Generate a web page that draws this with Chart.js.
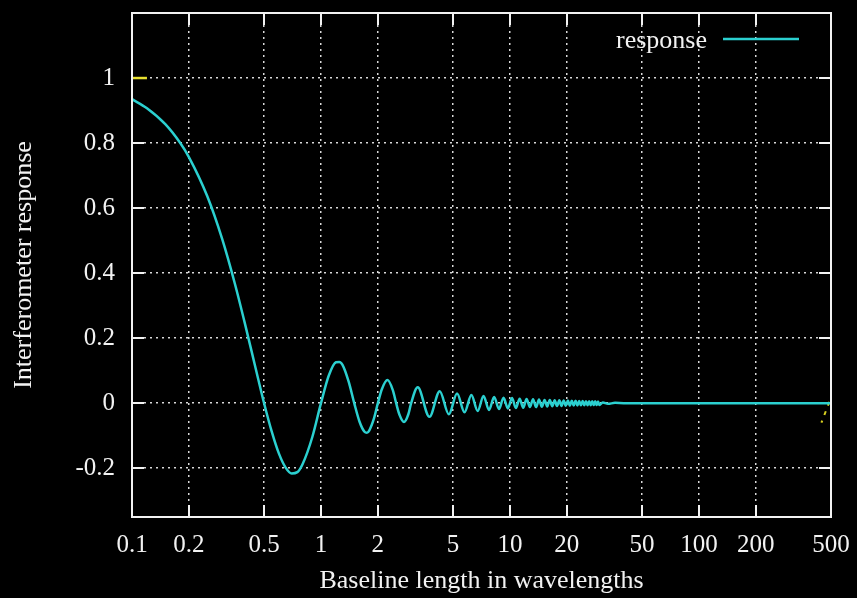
<!DOCTYPE html>
<html>
<head>
<meta charset="utf-8">
<script src="https://cdn.jsdelivr.net/npm/chart.js@4/dist/chart.umd.min.js"></script>
<style>
  html, body { margin:0; padding:0; background:#000; }
  #wrap { width:857px; height:598px; }
</style>
</head>
<body>
<div id="wrap"><canvas id="respChart"></canvas></div>
<script>
// ======================================
// Data
// ======================================

const baseline = [
    0.1, 0.12, 0.15, 0.18, 0.2, 0.25, 0.3, 0.35, 0.4, 0.45,
    0.5, 0.55, 0.6, 0.65, 0.7, 0.75, 0.8, 0.9,
    1.0, 1.1, 1.2, 1.25, 1.3, 1.4,
    1.5, 1.6, 1.7, 1.75, 1.8, 1.9,
    2.0, 2.1, 2.25, 2.4, 2.5, 2.6, 2.75, 2.9, 3.0,
    3.25, 3.75, 4.25, 4.75, 5.25, 5.75, 6.25, 6.75, 7.25, 7.75,
    8.25, 8.75, 9.25, 9.75, 10.25, 10.75, 11.25, 11.75, 12.25, 12.75,
    13.25, 13.75, 14.25, 14.75, 15.25, 15.75, 16.25, 16.75, 17.25, 17.75,
    18.25, 18.75, 19.25, 19.75, 20.25, 20.75, 21.25, 21.75,
    22.25, 22.75, 23.25, 23.75, 24.25, 24.75, 25.25, 25.75,
    26.25, 26.75, 27.25, 27.75, 28.25, 28.75, 29.25, 29.75,
    31, 33, 36, 40, 50, 100, 200, 500
];

const response = [
    0.935, 0.907, 0.858, 0.800, 0.757, 0.637, 0.505, 0.368, 0.234, 0.110,
    0, -0.089, -0.156, -0.198, -0.216, -0.212, -0.187, -0.104,
    0, 0.085, 0.126, 0.127, 0.118, 0.067,
    0, -0.057, -0.088, -0.091, -0.084, -0.050,
    0, 0.043, 0.071, 0.040, 0, -0.035, -0.058, -0.034, 0,
    0.049, -0.042, 0.037, -0.034, 0.030, -0.028, 0.025, -0.024, 0.022, -0.021,
    0.019, -0.018, 0.017, -0.016, 0.016, -0.015, 0.014, -0.014, 0.013, -0.012,
    0.012, -0.012, 0.011, -0.011, 0.010, -0.010, 0.010, -0.0095, 0.009, -0.009,
    0.0087, -0.0085, 0.0083, -0.008, 0.0079, -0.0077, 0.0075, -0.0073,
    0.0072, -0.007, 0.0068, -0.0067, 0.0066, -0.0064, 0.0063, -0.0062,
    0.0061, -0.006, 0.0058, -0.0057, 0.0056, -0.0055, 0.0054, -0.0053,
    0.002, -0.002, 0.001, 0, 0, 0, 0, 0
];

const markLeftX  = [0.1, 0.12];
const markLeftY  = [1, 1];
const markRightX = [490, 445];
const markRightY = [0.004, -0.06];

const xTickValues = [0.1, 0.2, 0.5, 1, 2, 5, 10, 20, 50, 100, 200, 500];
const yTickValues = [-0.2, 0, 0.2, 0.4, 0.6, 0.8, 1];

// ======================================
// Helpers
// ======================================

function toPoints(xs, ys){

    return xs.map((x, i) => ({ x:x, y:ys[i] }));

}

const serif = "'Liberation Serif', 'DejaVu Serif', serif";
const lineColor = "#2bd0d0";
const inkColor = "#f2f2f2";

// inward ticks on all four sides, frame and legend inside plot
const framePlugin = {

    id:"frame",

    beforeDatasetsDraw(chart){

        const ctx = chart.ctx;
        const a = chart.chartArea;
        const xs = chart.scales.x;
        const ys = chart.scales.y;
        const len = 12;

        ctx.save();
        ctx.strokeStyle = inkColor;
        ctx.lineWidth = 2;
        ctx.beginPath();

        xTickValues.forEach(v => {
            const px = Math.round(xs.getPixelForValue(v));
            ctx.moveTo(px, a.bottom); ctx.lineTo(px, a.bottom - len);
            ctx.moveTo(px, a.top);    ctx.lineTo(px, a.top + len);
        });

        yTickValues.forEach(v => {
            const py = Math.round(ys.getPixelForValue(v));
            ctx.moveTo(a.left, py);  ctx.lineTo(a.left + len, py);
            ctx.moveTo(a.right, py); ctx.lineTo(a.right - len, py);
        });

        ctx.stroke();
        ctx.restore();

    },

    afterDraw(chart){

        const ctx = chart.ctx;
        const a = chart.chartArea;

        ctx.save();
        ctx.strokeStyle = inkColor;
        ctx.lineWidth = 2;
        ctx.strokeRect(a.left, a.top, a.right - a.left, a.bottom - a.top);

        // legend
        ctx.fillStyle = inkColor;
        ctx.font = "26px " + serif;
        ctx.textAlign = "right";
        ctx.textBaseline = "middle";
        ctx.fillText("response", a.right - 124, a.top + 28);

        ctx.strokeStyle = lineColor;
        ctx.lineWidth = 2.5;
        ctx.beginPath();
        ctx.moveTo(a.right - 108, a.top + 26);
        ctx.lineTo(a.right - 32, a.top + 26);
        ctx.stroke();

        ctx.restore();

    }

};

// ======================================
// Chart
// ======================================

const respChart = new Chart(document.getElementById("respChart"), {

    type:"line",

    data:{
        datasets:[
            {
                label:"response",
                data:toPoints(baseline, response),
                borderColor:lineColor,
                borderWidth:2.5,
                pointRadius:0,
                cubicInterpolationMode:"monotone",
                fill:false
            },
            {
                label:"mark1",
                data:toPoints(markLeftX, markLeftY),
                borderColor:"#e8e030",
                borderWidth:2.5,
                pointRadius:0
            },
            {
                label:"mark2",
                data:toPoints(markRightX, markRightY),
                borderColor:"#d8d020",
                borderWidth:2,
                borderDash:[4,6],
                pointRadius:0
            }
        ]
    },

    options:{
        responsive:true,
        maintainAspectRatio:false,
        animation:false,
        layout:{ padding:{ top:13, right:26, bottom:0, left:0 } },
        plugins:{
            legend:{ display:false },
            tooltip:{ enabled:false }
        },
        scales:{
            x:{
                type:"logarithmic",
                min:0.1,
                max:500,
                afterBuildTicks(scale){
                    scale.ticks = xTickValues.map(v => ({ value:v }));
                },
                afterFit(scale){
                    scale.height = 81;
                    scale.paddingLeft = 0;
                    scale.paddingRight = 0;
                },
                grid:{
                    color:"#d8d8d8",
                    lineWidth:1.5,
                    drawTicks:false
                },
                border:{ display:false, dash:[2,4] },
                ticks:{
                    color:inkColor,
                    font:{ family:serif, size:25 },
                    padding:13,
                    maxRotation:0,
                    autoSkip:false,
                    callback:(v) => String(v)
                },
                title:{
                    display:true,
                    text:"Baseline length in wavelengths",
                    color:inkColor,
                    font:{ family:serif, size:26 },
                    padding:{ top:0, bottom:1 }
                }
            },
            y:{
                min:-0.35,
                max:1.2,
                afterBuildTicks(scale){
                    scale.ticks = yTickValues.map(v => ({ value:v }));
                },
                afterFit(scale){
                    scale.width = 132;
                    scale.paddingTop = 0;
                    scale.paddingBottom = 0;
                },
                grid:{
                    color:"#d8d8d8",
                    lineWidth:1.5,
                    drawTicks:false
                },
                border:{ display:false, dash:[2,4] },
                ticks:{
                    color:inkColor,
                    font:{ family:serif, size:25 },
                    padding:17,
                    callback:(v) => String(Math.round(v * 10) / 10)
                },
                title:{
                    display:true,
                    text:"Interferometer response",
                    color:inkColor,
                    font:{ family:serif, size:26 },
                    padding:{ top:9, bottom:0 }
                }
            }
        }
    },

    plugins:[framePlugin]

});
</script>
</body>
</html>
